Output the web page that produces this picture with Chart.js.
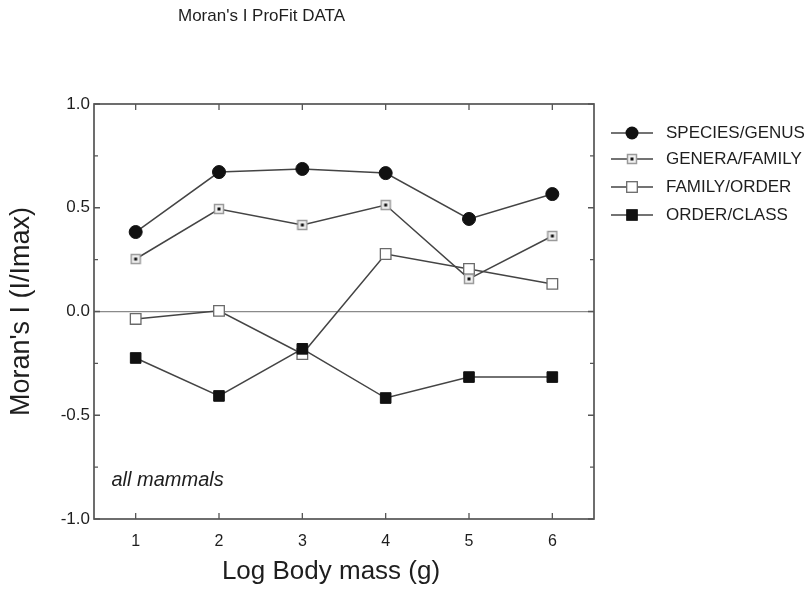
<!DOCTYPE html>
<html>
<head>
<meta charset="utf-8">
<script src="https://cdn.jsdelivr.net/npm/chart.js@4.4.0/dist/chart.umd.min.js"></script>
<style>
body { margin: 0; background: #fff; }
#wrap { width: 810px; height: 589px; }
</style>
</head>
<body>
<div id="wrap"><canvas id="c" width="810" height="589"></canvas></div>
<script>
// data
var logMass = [1, 2, 3, 4, 5, 6];
var speciesGenus = [0.383, 0.672, 0.687, 0.667, 0.446, 0.566];
var generaFamily = [0.253, 0.494, 0.417, 0.513, 0.157, 0.364];
var familyOrder = [-0.036, 0.003, -0.205, 0.277, 0.205, 0.133];
var orderClass = [-0.224, -0.407, -0.18, -0.417, -0.316, -0.316];
var seriesNames = ['SPECIES/GENUS', 'GENERA/FAMILY', 'FAMILY/ORDER', 'ORDER/CLASS'];
var yTicks = [-1, -0.75, -0.5, -0.25, 0, 0.25, 0.5, 0.75, 1];

var lineColor = '#444';
var textColor = '#1e1e1e';
var font = "'Liberation Sans', Arial, sans-serif";

function toPoints(values) {
	return values.map(function (v, i) { return { x: logMass[i], y: v }; });
}

// small gray square with a dark dot in the middle
function dotSquare() {
	var cv = document.createElement('canvas');
	cv.width = 12;
	cv.height = 12;
	var g = cv.getContext('2d');
	g.fillStyle = '#f0f0f0';
	g.fillRect(1, 1, 10, 10);
	g.strokeStyle = '#9a9a9a';
	g.lineWidth = 1.5;
	g.strokeRect(1.5, 1.5, 9, 9);
	g.fillStyle = '#111';
	g.fillRect(4.5, 4.5, 3, 3);
	return cv;
}
var dotSquareImg = dotSquare();

var datasets = [
	{
		label: seriesNames[0],
		data: toPoints(speciesGenus),
		borderColor: lineColor,
		borderWidth: 1.5,
		pointStyle: 'circle',
		pointRadius: 6.5,
		pointBackgroundColor: '#111',
		pointBorderColor: '#111',
		pointBorderWidth: 1,
		order: 1
	},
	{
		label: seriesNames[1],
		data: toPoints(generaFamily),
		borderColor: lineColor,
		borderWidth: 1.5,
		pointStyle: dotSquareImg,
		order: 2
	},
	{
		label: seriesNames[2],
		data: toPoints(familyOrder),
		borderColor: lineColor,
		borderWidth: 1.5,
		pointStyle: 'rect',
		pointRadius: 7.5,
		pointBackgroundColor: '#fff',
		pointBorderColor: '#6a6a6a',
		pointBorderWidth: 1.3,
		order: 3
	},
	{
		label: seriesNames[3],
		data: toPoints(orderClass),
		borderColor: lineColor,
		borderWidth: 1.5,
		pointStyle: 'rect',
		pointRadius: 7.5,
		pointBackgroundColor: '#111',
		pointBorderColor: '#111',
		pointBorderWidth: 1,
		order: 0
	}
];

function drawMarker(ctx, ds, x, y) {
	ctx.save();
	if (ds.pointStyle === 'circle') {
		ctx.beginPath();
		ctx.arc(x, y, ds.pointRadius, 0, Math.PI * 2);
		ctx.fillStyle = ds.pointBackgroundColor;
		ctx.fill();
	} else if (ds.pointStyle === 'rect') {
		var s = Math.SQRT1_2 * ds.pointRadius;
		ctx.fillStyle = ds.pointBackgroundColor;
		ctx.fillRect(x - s, y - s, 2 * s, 2 * s);
		ctx.strokeStyle = ds.pointBorderColor;
		ctx.lineWidth = ds.pointBorderWidth;
		ctx.strokeRect(x - s, y - s, 2 * s, 2 * s);
	} else {
		ctx.drawImage(ds.pointStyle, x - 6, y - 6);
	}
	ctx.restore();
}

var framePlugin = {
	id: 'frame',
	afterDatasetsDraw: function (chart) {
		var ctx = chart.ctx;
		var a = chart.chartArea;
		var xs = chart.scales.x;
		var ys = chart.scales.y;
		ctx.save();
		ctx.strokeStyle = '#555';
		ctx.lineWidth = 1.7;
		ctx.strokeRect(a.left, a.top, a.right - a.left, a.bottom - a.top);
		ctx.lineWidth = 1.3;
		ctx.beginPath();
		logMass.forEach(function (v) {
			var px = xs.getPixelForValue(v);
			ctx.moveTo(px, a.bottom);
			ctx.lineTo(px, a.bottom - 6);
			ctx.moveTo(px, a.top);
			ctx.lineTo(px, a.top + 6);
		});
		yTicks.forEach(function (v) {
			var py = ys.getPixelForValue(v);
			var len = (Math.abs(v * 2 - Math.round(v * 2)) < 1e-6) ? 6 : 4;
			ctx.moveTo(a.left, py);
			ctx.lineTo(a.left + len, py);
			ctx.moveTo(a.right, py);
			ctx.lineTo(a.right - len, py);
		});
		ctx.stroke();
		ctx.restore();
	},
	afterDraw: function (chart) {
		var ctx = chart.ctx;
		var xs = chart.scales.x;
		var ys = chart.scales.y;
		ctx.save();
		ctx.fillStyle = textColor;
		ctx.textBaseline = 'middle';

		// title
		ctx.font = '17px ' + font;
		ctx.textAlign = 'left';
		ctx.fillText("Moran's I ProFit DATA", 178, 16);

		// x axis title
		ctx.font = '26px ' + font;
		ctx.textAlign = 'center';
		ctx.fillText('Log Body mass (g)', 331, 572);

		// in-plot note
		ctx.font = 'italic 20px ' + font;
		ctx.textAlign = 'left';
		ctx.fillText('all mammals', xs.getPixelForValue(0.71), ys.getPixelForValue(-0.815));

		// legend
		var rows = [133, 159, 187, 215];
		chart.data.datasets.forEach(function (ds, i) {
			var y = rows[i];
			ctx.strokeStyle = lineColor;
			ctx.lineWidth = 1.5;
			ctx.beginPath();
			ctx.moveTo(611, y);
			ctx.lineTo(653, y);
			ctx.stroke();
			drawMarker(ctx, ds, 632, y);
			ctx.fillStyle = textColor;
			ctx.font = '17px ' + font;
			ctx.textAlign = 'left';
			ctx.fillText(ds.label, 666, y);
		});
		ctx.restore();
	}
};

var config = {
	type: 'line',
	data: { datasets: datasets },
	options: {
		responsive: false,
		animation: false,
		layout: { padding: { top: 104, right: 216, bottom: 0, left: 0 } },
		plugins: {
			legend: { display: false },
			tooltip: { enabled: false }
		},
		scales: {
			x: {
				type: 'linear',
				min: 0.5,
				max: 6.5,
				afterBuildTicks: function (scale) {
					scale.ticks = logMass.map(function (v) { return { value: v }; });
				},
				afterFit: function (scale) { scale.height = 70; },
				grid: { display: false },
				border: { display: false },
				ticks: {
					color: textColor,
					font: { family: font, size: 16 },
					padding: 5,
					callback: function (v) { return String(v); }
				}
			},
			y: {
				type: 'linear',
				min: -1,
				max: 1,
				afterBuildTicks: function (scale) {
					scale.ticks = yTicks.map(function (v) { return { value: v }; });
				},
				afterFit: function (scale) { scale.width = 94; },
				grid: {
					drawTicks: false,
					color: function (c) { return c.tick && c.tick.value === 0 ? '#8a8a8a' : 'rgba(0,0,0,0)'; },
					lineWidth: 1.2
				},
				border: { display: false },
				ticks: {
					color: textColor,
					font: { family: font, size: 17 },
					padding: 4,
					callback: function (v) {
						if (Math.abs(v * 2 - Math.round(v * 2)) > 1e-6) return '';
						return v.toFixed(1);
					}
				},
				title: {
					display: true,
					text: "Moran's I (I/Imax)",
					color: textColor,
					font: { family: font, size: 27 },
					padding: { top: 5, bottom: 0 }
				}
			}
		}
	},
	plugins: [framePlugin]
};

var chart = new Chart(document.getElementById('c').getContext('2d'), config);
</script>
</body>
</html>
